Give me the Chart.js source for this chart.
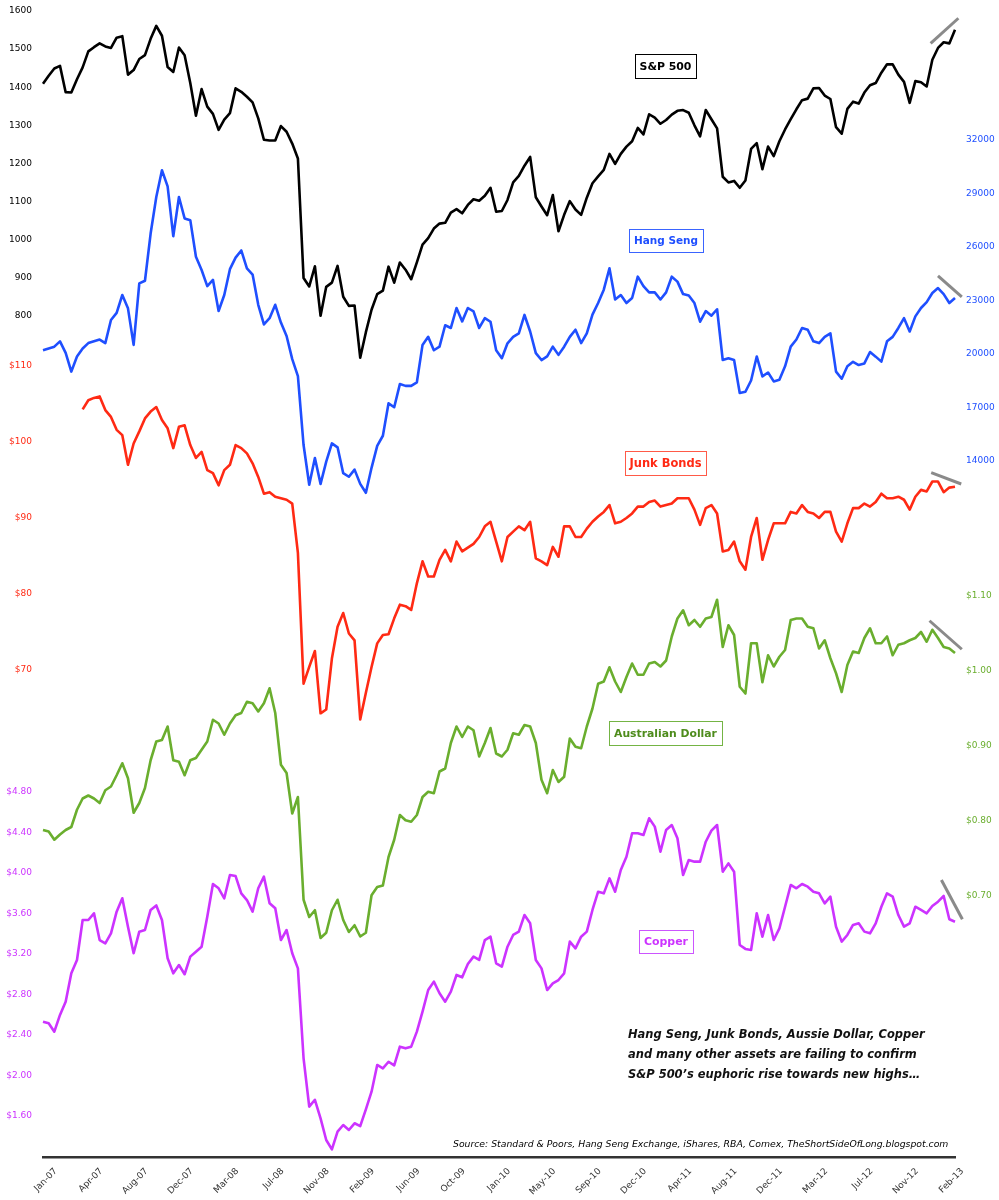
<!DOCTYPE html>
<html>
<head>
<meta charset="utf-8">
<script src="https://cdn.jsdelivr.net/npm/chart.js@4.4.1/dist/chart.umd.min.js"></script>
<style>
html,body{margin:0;padding:0;background:#fff;overflow:hidden;}
#wrap{position:relative;width:999px;height:1200px;}
</style>
</head>
<body>
<div id="wrap"><canvas id="c"></canvas></div>
<script>
// ---- categories: bi-weekly Fridays from 5 Jan 2007 to 8 Mar 2013 ----
const categories = [];
(function () {
  const d0 = Date.UTC(2007, 0, 5);
  for (let i = 0; i < 162; i++) {
    categories.push(new Date(d0 + i * 14 * 864e5).toISOString().slice(0, 10));
  }
})();

// x tick labels, one every 8 categories (16 weeks)
const tickLabels = ['Jan-07','Apr-07','Aug-07','Dec-07','Mar-08','Jul-08','Nov-08','Feb-09','Jun-09','Oct-09',
  'Jan-10','May-10','Sep-10','Dec-10','Apr-11','Aug-11','Dec-11','Mar-12','Jul-12','Nov-12','Feb-13'];

// ---- series ----
const sp500 = [
  1409,1430,1449,1456,1387,1386,1421,1452,1494,1505,1515,1507,1503,1530,1534,1433,1445,1474,1484,1527,1561,1535,1453,1440,1504,1484,
  1411,1325,1395,1349,1330,1288,1315,1332,1397,1388,1375,1360,1318,1262,1260,1260,1298,1283,1252,1213,899,877,930,800,876,887,
  931,850,826,827,690,757,816,857,866,929,887,940,921,896,940,987,1004,1029,1042,1044,1071,1080,1069,1091,1106,1102,
  1115,1136,1073,1075,1104,1150,1167,1194,1217,1111,1087,1064,1117,1022,1065,1101,1079,1065,1110,1148,1166,1183,1225,1199,1225,1244,1258,
  1293,1276,1329,1320,1304,1314,1328,1338,1340,1333,1300,1271,1340,1316,1292,1165,1150,1154,1136,1155,1238,1253,1185,1244,1219,1258,
  1289,1316,1342,1366,1370,1397,1398,1378,1369,1295,1278,1343,1362,1357,1386,1405,1411,1438,1460,1460,1433,1414,1359,1416,1413,1402,
  1472,1503,1518,1515,1551
];
const hangSeng = [
  20200,20300,20400,20700,20050,19000,19850,20300,20600,20700,20800,20600,21900,22300,23300,22550,20500,23950,24100,26750,28800,30300,29400,26600,28800,27600,
  27500,25450,24700,23800,24150,22400,23300,24750,25400,25800,24800,24450,22750,21650,22000,22750,21750,21000,19700,18750,14880,12650,14150,12700,13950,14970,
  14750,13300,13100,13500,12700,12200,13600,14830,15400,17220,17000,18300,18200,18200,18400,20500,20950,20200,20400,21600,21450,22570,21820,22570,22380,21450,
  22000,21800,20200,19750,20590,20950,21150,22180,21250,20040,19650,19850,20400,19940,20400,20950,21350,20600,21150,22200,22850,23600,24800,23050,23300,22850,23130,
  24330,23800,23450,23450,23050,23450,24330,24050,23350,23270,22850,21800,22400,22140,22500,19650,19750,19650,17800,17870,18500,19850,18730,18950,18450,18540,
  19300,20400,20800,21450,21350,20700,20600,20950,21150,19000,18600,19300,19550,19370,19460,20100,19840,19560,20700,20950,21450,22000,21250,22100,22570,22900,
  23410,23690,23350,22850,23130
];
const junkBonds = [
  null,null,null,null,null,null,null,104.3,105.5,105.8,106.0,104.2,103.3,101.6,100.9,97.0,99.8,101.4,103.1,104.0,104.6,102.9,101.8,99.2,102.0,102.2,
  99.6,97.9,98.7,96.3,95.9,94.3,96.3,97.0,99.6,99.2,98.5,97.2,95.4,93.2,93.4,92.8,92.6,92.4,91.9,85.4,68.2,70.4,72.5,64.3,64.8,71.5,
  75.7,77.5,74.8,73.9,63.5,67.0,70.4,73.5,74.6,74.7,76.8,78.6,78.4,77.9,81.4,84.3,82.3,82.3,84.5,85.8,84.3,86.9,85.6,86.1,86.6,87.5,
  88.9,89.5,86.9,84.3,87.5,88.2,88.9,88.4,89.5,84.7,84.3,83.8,86.2,84.9,88.9,88.9,87.5,87.5,88.6,89.5,90.2,90.8,91.7,89.3,89.5,90.0,90.6,
  91.5,91.5,92.1,92.3,91.5,91.7,91.9,92.6,92.6,92.6,91.1,89.1,91.3,91.7,90.6,85.6,85.8,86.9,84.3,83.2,87.5,90.0,84.5,87.1,89.3,89.3,
  89.3,90.8,90.6,91.7,90.8,90.6,90.0,90.8,90.8,88.2,86.9,89.3,91.3,91.3,91.9,91.5,92.1,93.2,92.6,92.6,92.8,92.4,91.1,92.8,93.7,93.5,
  94.8,94.8,93.4,94.0,94.1
];
const aussieDollar = [
  0.788,0.786,0.775,0.782,0.788,0.792,0.815,0.830,0.834,0.830,0.824,0.841,0.846,0.861,0.877,0.857,0.811,0.824,0.844,0.881,0.906,0.908,0.926,0.881,0.879,0.861,
  0.881,0.884,0.895,0.906,0.935,0.930,0.915,0.930,0.941,0.944,0.959,0.957,0.946,0.957,0.977,0.944,0.875,0.864,0.810,0.832,0.695,0.672,0.681,0.644,0.651,0.681,
  0.695,0.668,0.652,0.661,0.646,0.651,0.701,0.712,0.714,0.752,0.775,0.808,0.801,0.799,0.808,0.832,0.839,0.837,0.866,0.870,0.904,0.926,0.912,0.926,0.921,0.886,
  0.904,0.924,0.890,0.886,0.895,0.917,0.915,0.928,0.926,0.904,0.855,0.837,0.868,0.852,0.859,0.910,0.899,0.897,0.926,0.950,0.983,0.986,1.005,0.986,0.972,0.992,1.010,
  0.995,0.995,1.010,1.012,1.006,1.014,1.046,1.070,1.081,1.061,1.068,1.059,1.070,1.072,1.095,1.032,1.061,1.048,0.979,0.970,1.037,1.037,0.985,1.021,1.006,1.019,
  1.028,1.068,1.070,1.070,1.059,1.057,1.030,1.041,1.017,0.997,0.972,1.008,1.026,1.024,1.044,1.057,1.037,1.037,1.046,1.021,1.035,1.037,1.041,1.044,1.052,1.039,
  1.055,1.044,1.032,1.030,1.024
];
const copper = [
  2.531,2.515,2.433,2.598,2.729,3.009,3.141,3.536,3.536,3.602,3.338,3.305,3.404,3.618,3.750,3.470,3.207,3.421,3.437,3.635,3.680,3.536,3.158,3.009,3.091,3.000,
  3.174,3.223,3.272,3.569,3.891,3.849,3.750,3.980,3.970,3.799,3.733,3.618,3.849,3.964,3.701,3.651,3.338,3.437,3.207,3.058,2.170,1.692,1.760,1.577,1.363,1.270,
  1.445,1.511,1.462,1.528,1.500,1.666,1.840,2.104,2.071,2.136,2.100,2.285,2.268,2.285,2.433,2.630,2.844,2.927,2.812,2.729,2.828,2.993,2.970,3.101,3.174,3.141,
  3.338,3.371,3.108,3.075,3.272,3.388,3.421,3.585,3.503,3.141,3.058,2.844,2.910,2.943,3.009,3.322,3.256,3.371,3.421,3.635,3.815,3.799,3.947,3.815,4.030,4.161,4.392,
  4.392,4.375,4.540,4.458,4.211,4.425,4.474,4.343,3.980,4.128,4.112,4.112,4.309,4.418,4.474,4.013,4.095,4.013,3.289,3.250,3.240,3.602,3.371,3.585,3.338,3.453,
  3.667,3.882,3.849,3.891,3.865,3.815,3.799,3.701,3.766,3.470,3.322,3.388,3.487,3.503,3.421,3.404,3.503,3.667,3.799,3.766,3.585,3.470,3.503,3.667,3.635,3.602,
  3.674,3.717,3.773,3.543,3.519
];

// grey divergence trend lines (category-index x, series-unit y)
const spTrend  = [{x:156.7, y:1515},  {x:161.6, y:1581}];
const hsTrend  = [{x:158.0, y:24370}, {x:162.2, y:23200}];
const jbTrend  = [{x:156.8, y:95.96}, {x:162.1, y:94.47}];
const audTrend = [{x:156.5, y:1.067}, {x:162.2, y:1.029}];
const cuTrend  = [{x:158.6, y:3.931}, {x:162.3, y:3.543}];

// axis tick values
const spTicks  = [800,900,1000,1100,1200,1300,1400,1500,1600];
const hsTicks  = [14000,17000,20000,23000,26000,29000,32000];
const jbTicks  = [70,80,90,100,110];
const audTicks = [0.70,0.80,0.90,1.00,1.10];
const cuTicks  = [1.60,2.00,2.40,2.80,3.20,3.60,4.00,4.40,4.80];

// ---- styling ----
const FONT = 'DejaVu Sans';
const C_SP = '#000000', C_HS = '#1f4fff', C_JB = '#ff2a14', C_AU = '#6aae2e', C_CU = '#cc33ff';
Chart.defaults.font.family = FONT;

function yAxis(pos, weight, width, min, max, ticks, color, fmt) {
  return {
    type: 'linear', position: pos, weight: weight, min: min, max: max,
    grid: { display: false, drawTicks: false },
    border: { display: false },
    ticks: { color: color, font: { family: FONT, size: 9 }, padding: 0, autoSkip: false,
             callback: (v) => fmt(v) },
    afterBuildTicks: (s) => { s.ticks = ticks.map(v => ({ value: v })); },
    afterFit: (s) => { s.width = width; }
  };
}

function lineDs(label, data, axis, color) {
  return { label, data, yAxisID: axis, borderColor: color, backgroundColor: color,
           borderWidth: 2.6, pointRadius: 0, tension: 0, borderJoinStyle: 'round', spanGaps: false };
}
function trendDs(data, axis) {
  return { label: 'trend', data, xAxisID: 'x2', yAxisID: axis, borderColor: '#8a8a8a',
           borderWidth: 3, pointRadius: 0, clip: false, borderCapStyle: 'butt' };
}

// place the tick-label columns of the overlaid axes (left labels end at x=32, right labels start at x=966)
const axisColumns = {
  id: 'axisColumns',
  afterLayout(chart) {
    ['ySP', 'yJB', 'yCU'].forEach(id => { const s = chart.scales[id]; s.left = 0; s.right = 32; s.width = 32; });
    ['yHS', 'yAU'].forEach(id => { const s = chart.scales[id]; s.left = 966; s.right = 999; s.width = 33; });
  }
};

const boxes = [
  { t: 'S&P 500',           cx: 665.5, cy: 66,    w: 61,  h: 24, tw: 52,  color: '#000000', border: '#000000' },
  { t: 'Hang Seng',         cx: 666,   cy: 240.5, w: 74,  h: 23, tw: 64,  color: '#1f4fff', border: '#3a64ff' },
  { t: 'Junk Bonds',        cx: 665.5, cy: 463,   w: 81,  h: 24, tw: 72,  color: '#ff2a14', border: '#ff5a48' },
  { t: 'Australian Dollar', cx: 665.5, cy: 733,   w: 113, h: 24, tw: 103, color: '#4e8c1c', border: '#74b444' },
  { t: 'Copper',            cx: 666,   cy: 941.5, w: 54,  h: 23, tw: 44,  color: '#cc33ff', border: '#cc55ff' }
];
const comment = ['Hang Seng, Junk Bonds, Aussie Dollar, Copper',
                 'and many other assets are failing to confirm',
                 'S&P 500\u2019s euphoric rise towards new highs\u2026'];
const source = 'Source: Standard & Poors, Hang Seng Exchange, iShares, RBA, Comex, TheShortSideOfLong.blogspot.com';

function fitFont(ctx, text, style, target) {
  ctx.font = style + ' 20px "' + FONT + '"';
  const w = ctx.measureText(text).width;
  return style + ' ' + (20 * target / w).toFixed(2) + 'px "' + FONT + '"';
}

const notes = {
  id: 'notes',
  afterDraw(chart) {
    const ctx = chart.ctx;
    ctx.save();
    boxes.forEach(b => {
      ctx.fillStyle = '#fff';
      ctx.fillRect(b.cx - b.w / 2, b.cy - b.h / 2, b.w, b.h);
      ctx.strokeStyle = b.border; ctx.lineWidth = 1;
      ctx.strokeRect(Math.round(b.cx - b.w / 2) + 0.5, Math.round(b.cy - b.h / 2) + 0.5, b.w, b.h);
      ctx.font = fitFont(ctx, b.t, 'bold', b.tw);
      ctx.fillStyle = b.color; ctx.textAlign = 'center'; ctx.textBaseline = 'middle';
      ctx.fillText(b.t, b.cx, b.cy + 1);
    });
    ctx.fillStyle = '#111'; ctx.textAlign = 'left'; ctx.textBaseline = 'middle';
    ctx.font = fitFont(ctx, comment[0], 'italic bold', 297);
    comment.forEach((l, i) => ctx.fillText(l, 628, 1035 + i * 20));
    ctx.font = fitFont(ctx, source, 'italic', 496);
    ctx.fillStyle = '#000';
    ctx.fillText(source, 453, 1145);
    ctx.restore();
  }
};

new Chart(document.getElementById('c'), {
  type: 'line',
  data: {
    labels: categories,
    datasets: [
      lineDs('S&P 500', sp500, 'ySP', C_SP),
      lineDs('Hang Seng', hangSeng, 'yHS', C_HS),
      lineDs('Junk Bonds', junkBonds, 'yJB', C_JB),
      lineDs('Australian Dollar', aussieDollar, 'yAU', C_AU),
      lineDs('Copper', copper, 'yCU', C_CU),
      trendDs(spTrend, 'ySP'), trendDs(hsTrend, 'yHS'), trendDs(jbTrend, 'yJB'),
      trendDs(audTrend, 'yAU'), trendDs(cuTrend, 'yCU')
    ]
  },
  options: {
    responsive: true, maintainAspectRatio: false, animation: false,
    layout: { padding: { top: 11, left: 0, right: 0, bottom: 0 } },
    plugins: { legend: { display: false }, tooltip: { enabled: false } },
    events: [],
    scales: {
      x: {
        type: 'category', position: 'bottom', offset: false, weight: 1,
        grid: { display: false, drawTicks: false },
        border: { display: true, color: '#333', width: 2.5 },
        ticks: { autoSkip: false, maxRotation: 45, minRotation: 45, color: '#333',
                 font: { family: FONT, size: 9 }, padding: 9, labelOffset: 13,
                 callback: (v, i) => (i % 8 === 0 ? tickLabels[i / 8] : '') },
        afterFit: (s) => { s.height = 43; }
      },
      x2: { type: 'linear', position: 'bottom', display: false, min: 0, max: 161, weight: 0 },
      ySP: yAxis('left', 3, 43, -1407.9, 1600, spTicks, C_SP, v => String(v)),
      yJB: yAxis('left', 2, 0, 5.92, 156.71, jbTicks, C_JB, v => '$' + v),
      yCU: yAxis('left', 1, 0, 1.195, 12.514, cuTicks, C_CU, v => '$' + v.toFixed(2)),
      yAU: yAxis('right', 1, 0, 0.352, 1.88, audTicks, C_AU, v => '$' + v.toFixed(2)),
      yHS: yAxis('right', 2, 44, -25081, 39240, hsTicks, C_HS, v => String(v))
    }
  },
  plugins: [axisColumns, notes]
});
</script>
</body>
</html>
